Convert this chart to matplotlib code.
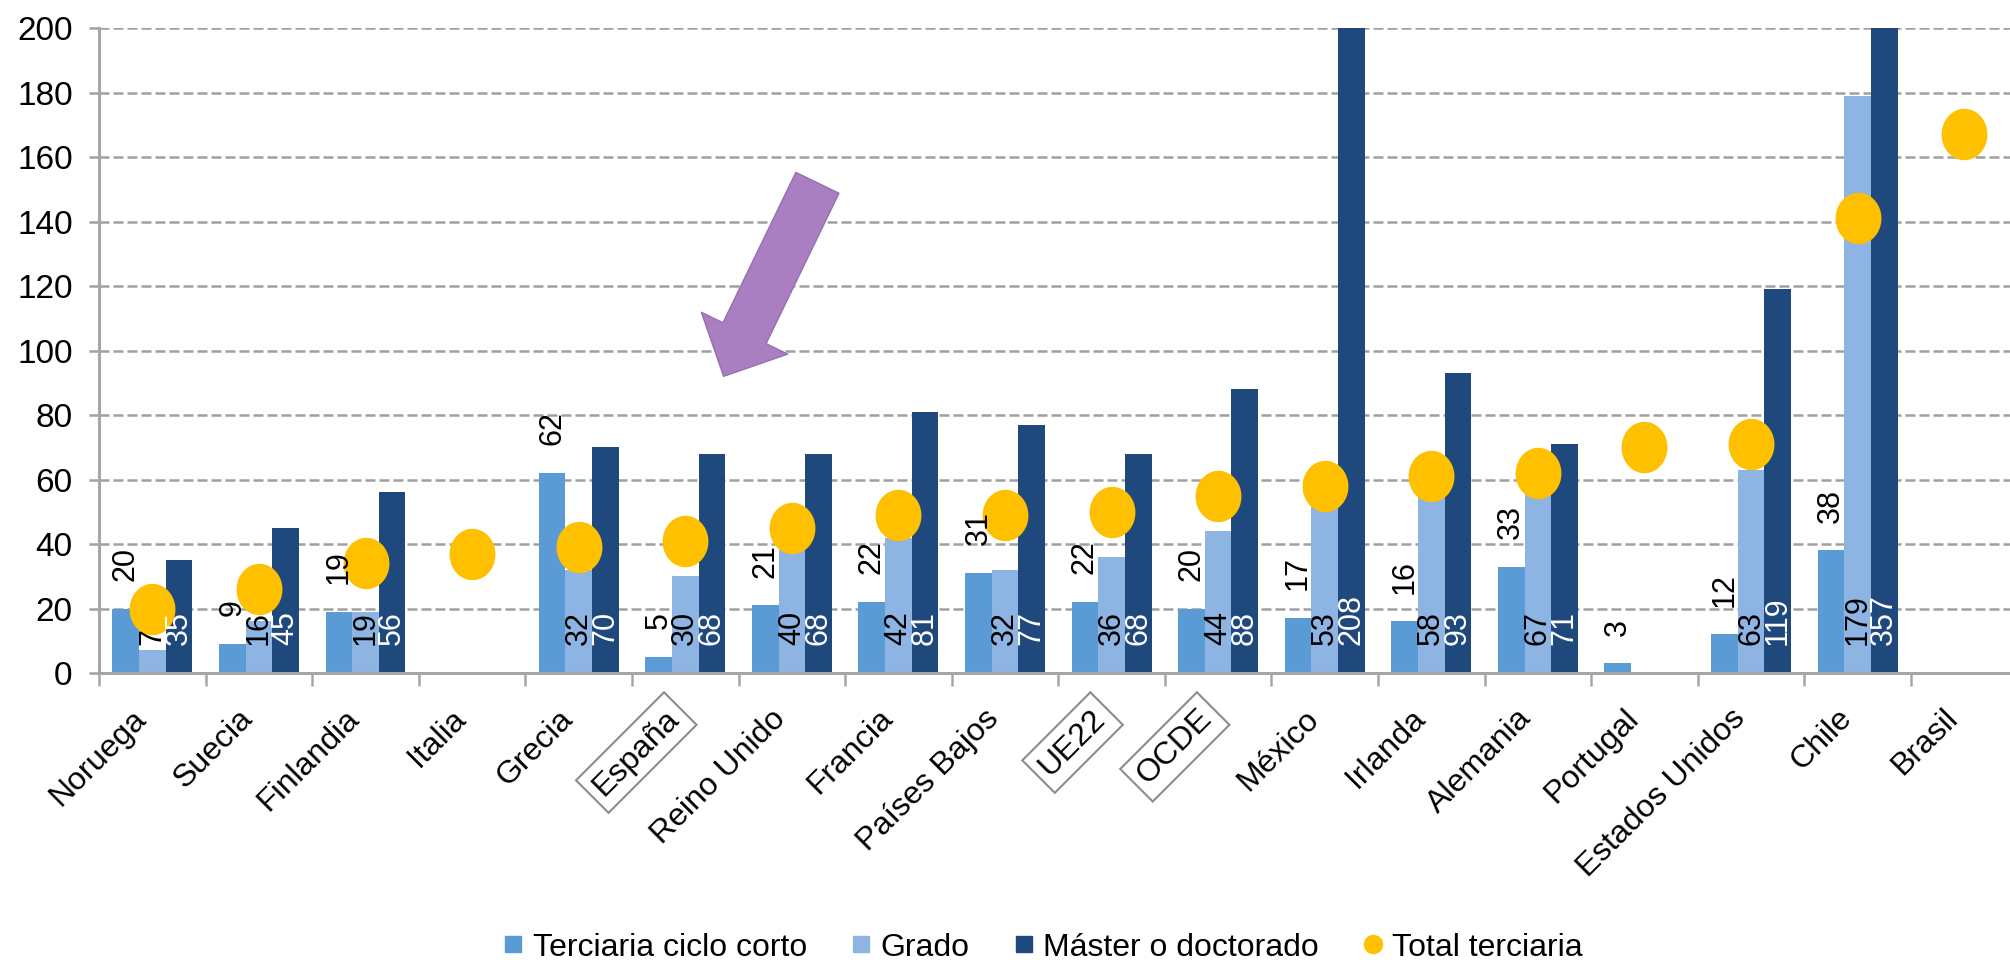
import numpy as np
import matplotlib.pyplot as plt
from matplotlib.path import Path
from matplotlib.lines import Line2D

nan = np.nan

# datos
paises = ['Noruega', 'Suecia', 'Finlandia', 'Italia', 'Grecia', 'España', 'Reino Unido',
          'Francia', 'Países Bajos', 'UE22', 'OCDE', 'México', 'Irlanda', 'Alemania',
          'Portugal', 'Estados Unidos', 'Chile', 'Brasil']
ciclo_corto = [20, 9, 19, nan, 62, 5, 21, 22, 31, 22, 20, 17, 16, 33, 3, 12, 38, nan]
grado = [7, 16, 19, nan, 32, 30, 40, 42, 32, 36, 44, 53, 58, 67, nan, 63, 179, nan]
master = [35, 45, 56, nan, 70, 68, 68, 81, 77, 68, 88, 208, 93, 71, nan, 119, 357, nan]
total = [20, 26, 34, 37, 39, 41, 45, 49, 49, 50, 55, 58, 61, 62, 70, 71, 141, 167]
destacados = ['España', 'UE22', 'OCDE']
series = ['Terciaria ciclo corto', 'Grado', 'Máster o doctorado', 'Total terciaria']

c_corto = '#5B9BD5'
c_grado = '#8EB4E3'
c_master = '#1F497D'
c_total = '#FFC000'
gris = '#a0a0a0'

plt.rcParams['font.family'] = ['Liberation Sans', 'DejaVu Sans']
fs = 23
fs_dat = 22

fig = plt.figure(figsize=(20.1, 9.63), dpi=100)
ax = fig.add_axes([0.0493, 0.3011, 0.9507, 0.6698])

x = np.arange(len(paises))
w = 0.25
ax.bar(x - w, ciclo_corto, w, color=c_corto, zorder=2)
ax.bar(x, grado, w, color=c_grado, zorder=2)
ax.bar(x + w, master, w, color=c_master, zorder=2)

# punto algo mas alto que ancho
t = np.linspace(0, 2 * np.pi, 60)
elipse = Path(np.column_stack([np.cos(t), 1.12 * np.sin(t)]))
ax.plot(x, total, ls='none', marker=elipse, ms=37, color=c_total, mew=0, zorder=4)

# etiquetas de datos
for xi, v in zip(x - w, ciclo_corto):
    if not np.isnan(v):
        ax.annotate(f'{v:g}', (xi, v), xytext=(0, 20), textcoords='offset points',
                    rotation=90, ha='center', va='bottom', fontsize=fs_dat, color='black',
                    zorder=5, annotation_clip=False)
for xi, v in zip(x, grado):
    if not np.isnan(v):
        ax.annotate(f'{v:g}', (xi, 0), xytext=(0, 20), textcoords='offset points',
                    rotation=90, ha='center', va='bottom', fontsize=fs_dat, color='black',
                    zorder=5, annotation_clip=False)
for xi, v in zip(x + w, master):
    if not np.isnan(v):
        ax.annotate(f'{v:g}', (xi, 0), xytext=(0, 20), textcoords='offset points',
                    rotation=90, ha='center', va='bottom', fontsize=fs_dat, color='white',
                    zorder=5, annotation_clip=False)

# flecha hacia España
i_esp = paises.index('España')
ax.annotate('', xy=(i_esp + 0.36, 92), xytext=(i_esp + 1.24, 152),
            arrowprops=dict(arrowstyle='simple,head_length=3.45,head_width=6.9,tail_width=3.45',
                            mutation_scale=10, fc='#A97FC2', ec='#9470B0', lw=1,
                            shrinkA=0, shrinkB=0), zorder=6)

# ejes
ax.set_ylim(0, 200)
ax.set_xlim(-0.5, 17.43)
ax.set_yticks(range(0, 201, 20))
ax.yaxis.grid(True, color=gris, lw=1.8, ls=(0, (4, 1.6)))
ax.set_axisbelow(True)
for s in ['top', 'right']:
    ax.spines[s].set_visible(False)
ax.spines['left'].set_color('#a6a6a6')
ax.spines['left'].set_linewidth(2.2)
ax.spines['bottom'].set_color('#a6a6a6')
ax.spines['bottom'].set_linewidth(2.2)
ax.tick_params(axis='y', length=7, width=1.8, color=gris, pad=12, labelsize=fs + 1)

ax.set_xticks(x)
ax.set_xticks(np.arange(-0.5, 17.5, 1), minor=True)
ax.tick_params(axis='x', which='major', length=0, pad=22)
ax.tick_params(axis='x', which='minor', length=9, width=1.8, color='#a6a6a6')
ax.set_xticklabels(paises, rotation=45, ha='right', va='top', fontsize=fs)
for lab in ax.get_xticklabels():
    if lab.get_text() in destacados:
        lab.set_bbox(dict(boxstyle='square,pad=0.25', fc='none', ec='#8c8c8c', lw=1.5))

# leyenda
handles = [Line2D([], [], ls='none', marker='s', ms=11, color=c_corto),
           Line2D([], [], ls='none', marker='s', ms=11, color=c_grado),
           Line2D([], [], ls='none', marker='s', ms=11, color=c_master),
           Line2D([], [], ls='none', marker='o', ms=13, color=c_total)]
fig.legend(handles, series, loc='center', bbox_to_anchor=(0.519, 0.016), ncol=4,
           frameon=False, fontsize=fs, handlelength=0.6, handletextpad=0.3,
           columnspacing=1.4, borderpad=0, borderaxespad=0)

fig.savefig('out.png', dpi=100)
